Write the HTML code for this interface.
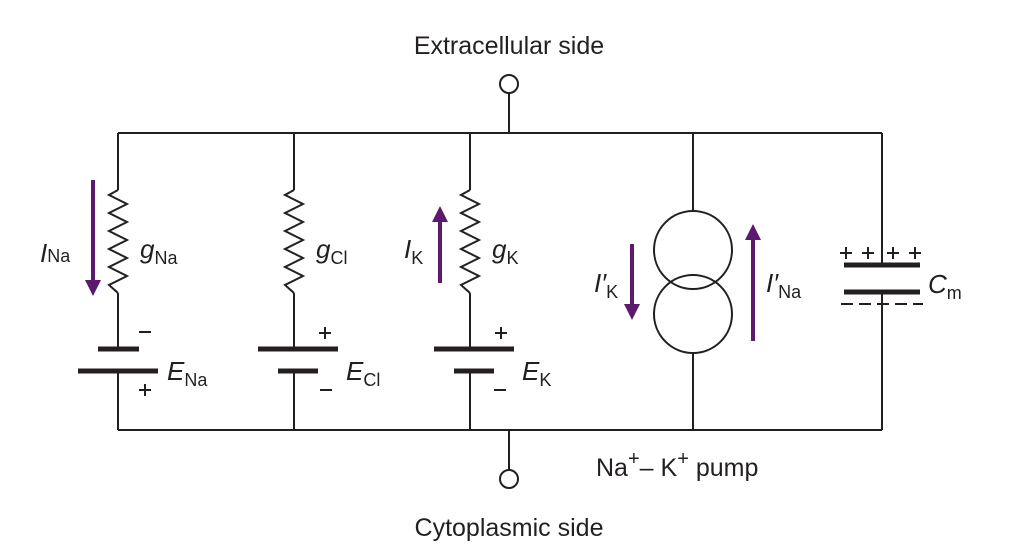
<!DOCTYPE html>
<html><head><meta charset="utf-8"><style>
html,body{margin:0;padding:0;background:#fff;}
svg{display:block;}
text{font-family:"Liberation Sans",sans-serif;fill:#231f20;}
.l{font-size:25px;}
.i{font-style:italic;font-size:26px;}
.s{font-size:18px;font-style:normal;}
</style></head><body>
<svg width="1010" height="558" viewBox="0 0 1010 558" xmlns="http://www.w3.org/2000/svg">
<defs>
<marker id="ah" viewBox="0 0 10 10" refX="5" refY="5" markerWidth="4" markerHeight="4" orient="auto-start-reverse"><path d="M0,0 L10,5 L0,10 z" fill="#5b1a6e"/></marker>
</defs>
<g stroke="#231f20" stroke-width="2" fill="none">
<line x1="118" y1="133" x2="882" y2="133"/>
<line x1="118" y1="430" x2="882" y2="430"/>
<line x1="509" y1="93" x2="509" y2="133"/>
<circle cx="509" cy="84" r="9"/>
<line x1="509" y1="430" x2="509" y2="470"/>
<circle cx="509" cy="479" r="9"/>
<line x1="118" y1="133" x2="118" y2="190"/>
<polyline points="118,190 109,195 127,204 109,213 127,222 109,231 127,240 109,249 127,258 109,267 127,276 109,285 118,293"/>
<line x1="118" y1="293" x2="118" y2="349"/>
<line x1="118" y1="371" x2="118" y2="430"/>
<line x1="294" y1="133" x2="294" y2="190"/>
<polyline points="294,190 285,195 303,204 285,213 303,222 285,231 303,240 285,249 303,258 285,267 303,276 285,285 294,293"/>
<line x1="294" y1="293" x2="294" y2="349"/>
<line x1="294" y1="371" x2="294" y2="430"/>
<line x1="470" y1="133" x2="470" y2="190"/>
<polyline points="470,190 461,195 479,204 461,213 479,222 461,231 479,240 461,249 479,258 461,267 479,276 461,285 470,293"/>
<line x1="470" y1="293" x2="470" y2="349"/>
<line x1="470" y1="371" x2="470" y2="430"/>
<line x1="693" y1="133" x2="693" y2="211"/>
<circle cx="693" cy="250" r="39"/>
<circle cx="693" cy="314" r="39"/>
<line x1="693" y1="353" x2="693" y2="430"/>
<line x1="882" y1="133" x2="882" y2="265"/>
<line x1="882" y1="292" x2="882" y2="430"/>
</g>
<g stroke="#231f20" stroke-width="5">
<line x1="98" y1="349" x2="139" y2="349"/>
<line x1="78" y1="371" x2="158" y2="371"/>
<line x1="258" y1="349" x2="338" y2="349"/>
<line x1="278" y1="371" x2="318" y2="371"/>
<line x1="434" y1="349" x2="514" y2="349"/>
<line x1="454" y1="371" x2="494" y2="371"/>
<line x1="844" y1="265" x2="920" y2="265"/>
<line x1="844" y1="292" x2="920" y2="292"/>
</g>
<g stroke="#231f20" stroke-width="2">
<line x1="841" y1="304" x2="853" y2="304"/><line x1="859" y1="304" x2="871" y2="304"/><line x1="877" y1="304" x2="889" y2="304"/><line x1="895" y1="304" x2="907" y2="304"/><line x1="913" y1="304" x2="923" y2="304"/>
<path d="M840,253h12M846,247v12M862,253h12M868,247v12M887,253h12M893,247v12M909,253h12M915,247v12"/>
<path d="M139,332h12M139,390h12M145,384v12M319,333h12M325,327v12M320,390h12M495,333h12M501,327v12M494,390h12"/>
</g>
<g stroke="#5b1a6e" stroke-width="4" fill="none">
<line x1="93" y1="180" x2="93" y2="288" marker-end="url(#ah)"/>
<line x1="440" y1="283" x2="440" y2="214" marker-end="url(#ah)"/>
<line x1="632" y1="244" x2="632" y2="312" marker-end="url(#ah)"/>
<line x1="753" y1="341" x2="753" y2="232" marker-end="url(#ah)"/>
</g>
<text class="l" x="509" y="54" text-anchor="middle">Extracellular side</text>
<text class="l" x="509" y="536" text-anchor="middle">Cytoplasmic side</text>
<text class="l" x="596" y="476">Na<tspan dy="-11" style="font-size:20px">+</tspan><tspan dy="11">– K</tspan><tspan dy="-11" style="font-size:20px">+</tspan><tspan dy="11"> pump</tspan></text>
<text class="i" x="40" y="262">I<tspan class="s">Na</tspan></text>
<text class="i" x="140" y="258">g<tspan class="s" dy="6">Na</tspan></text>
<text class="i" x="316" y="258">g<tspan class="s" dy="6">Cl</tspan></text>
<text class="i" x="404" y="258">I<tspan class="s" dy="6">K</tspan></text>
<text class="i" x="492" y="258">g<tspan class="s" dy="6">K</tspan></text>
<text class="i" x="594" y="292">I′<tspan class="s" dy="6">K</tspan></text>
<text class="i" x="766" y="292">I′<tspan class="s" dy="6">Na</tspan></text>
<text class="i" x="928" y="293">C<tspan class="s" dy="6">m</tspan></text>
<text class="i" x="167" y="380">E<tspan class="s" dy="6">Na</tspan></text>
<text class="i" x="346" y="380">E<tspan class="s" dy="6">Cl</tspan></text>
<text class="i" x="522" y="380">E<tspan class="s" dy="6">K</tspan></text>
</svg>
</body></html>
